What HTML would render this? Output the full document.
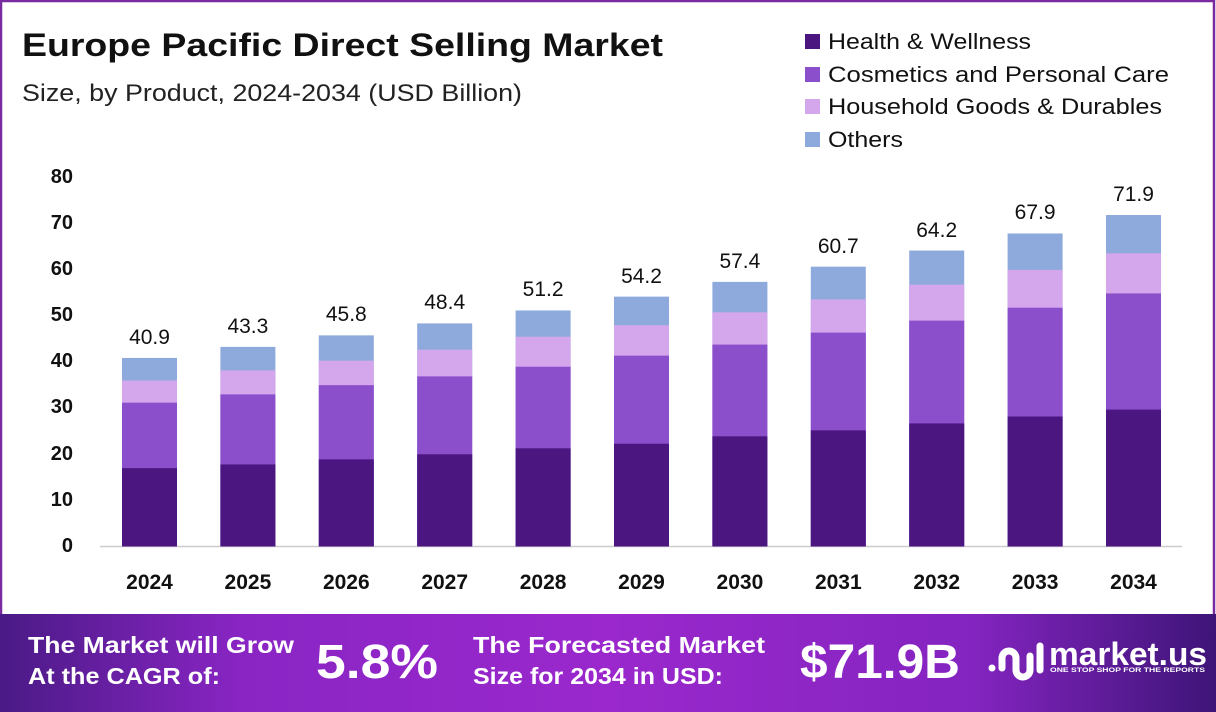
<!DOCTYPE html>
<html><head><meta charset="utf-8"><style>
html,body{margin:0;padding:0;background:#fff;}
svg{display:block;}
</style></head><body>
<svg width="1216" height="712" viewBox="0 0 1216 712" xmlns="http://www.w3.org/2000/svg" font-family="Liberation Sans, sans-serif">
<defs>
<linearGradient id="bg" x1="0" y1="0" x2="1" y2="0">
<stop offset="0" stop-color="#4a1a86"/>
<stop offset="0.2" stop-color="#8a25c4"/>
<stop offset="0.5" stop-color="#9a28cc"/>
<stop offset="0.8" stop-color="#8424c0"/>
<stop offset="1" stop-color="#3e1478"/>
</linearGradient>
</defs>
<rect x="1" y="1" width="1213" height="640" fill="#fff" stroke="#7a2aa0" stroke-width="2.5"/>
<text x="22" y="56" font-size="32" font-weight="bold" fill="#111" textLength="641" lengthAdjust="spacingAndGlyphs">Europe Pacific Direct Selling Market</text>
<text x="22" y="101" font-size="24" fill="#222" textLength="500" lengthAdjust="spacingAndGlyphs">Size, by Product, 2024-2034 (USD Billion)</text>
<g font-size="22" fill="#111">
<rect x="805" y="34" width="15" height="15" fill="#4b1680"/><text x="828" y="49" textLength="203" lengthAdjust="spacingAndGlyphs">Health &amp; Wellness</text>
<rect x="805" y="67" width="15" height="15" fill="#8b4fcc"/><text x="828" y="82" textLength="341" lengthAdjust="spacingAndGlyphs">Cosmetics and Personal Care</text>
<rect x="805" y="99" width="15" height="15" fill="#d4a6ec"/><text x="828" y="114" textLength="334" lengthAdjust="spacingAndGlyphs">Household Goods &amp; Durables</text>
<rect x="805" y="132" width="15" height="15" fill="#8eaadc"/><text x="828" y="147" textLength="75" lengthAdjust="spacingAndGlyphs">Others</text>
</g>
<g font-size="20" font-weight="bold" fill="#111" text-anchor="end">
<text x="73" y="183">80</text><text x="73" y="229">70</text><text x="73" y="275">60</text><text x="73" y="321">50</text><text x="73" y="367">40</text><text x="73" y="413">30</text><text x="73" y="460">20</text><text x="73" y="506">10</text><text x="73" y="552">0</text>
</g>
<line x1="100" y1="546.5" x2="1182" y2="546.5" stroke="#ccc" stroke-width="1.5"/>
<g fill="#8eaadc">
<rect x="122" y="357.95" width="55" height="188.55"/>
<rect x="220.4" y="346.89" width="55" height="199.61"/>
<rect x="318.8" y="335.36" width="55" height="211.14"/>
<rect x="417.2" y="323.38" width="55" height="223.12"/>
<rect x="515.6" y="310.47" width="55" height="236.03"/>
<rect x="614" y="296.64" width="55" height="249.86"/>
<rect x="712.4" y="281.89" width="55" height="264.61"/>
<rect x="810.8" y="266.67" width="55" height="279.83"/>
<rect x="909.2" y="250.54" width="55" height="295.96"/>
<rect x="1007.6" y="233.48" width="55" height="313.02"/>
<rect x="1106" y="215.04" width="55" height="331.46"/>
</g>
<g fill="#d4a6ec">
<rect x="122" y="380.54" width="55" height="165.96"/>
<rect x="220.4" y="370.40" width="55" height="176.1"/>
<rect x="318.8" y="360.72" width="55" height="185.78"/>
<rect x="417.2" y="349.65" width="55" height="196.85"/>
<rect x="515.6" y="336.75" width="55" height="209.75"/>
<rect x="614" y="325.22" width="55" height="221.28"/>
<rect x="712.4" y="312.31" width="55" height="234.19"/>
<rect x="810.8" y="299.40" width="55" height="247.1"/>
<rect x="909.2" y="284.65" width="55" height="261.85"/>
<rect x="1007.6" y="269.9" width="55" height="276.6"/>
<rect x="1106" y="253.30" width="55" height="293.2"/>
</g>
<g fill="#8b4fcc">
<rect x="122" y="402.67" width="55" height="143.83"/>
<rect x="220.4" y="394.37" width="55" height="152.13"/>
<rect x="318.8" y="385.15" width="55" height="161.35"/>
<rect x="417.2" y="376.39" width="55" height="170.11"/>
<rect x="515.6" y="366.71" width="55" height="179.79"/>
<rect x="614" y="355.65" width="55" height="190.85"/>
<rect x="712.4" y="344.58" width="55" height="201.92"/>
<rect x="810.8" y="332.60" width="55" height="213.9"/>
<rect x="909.2" y="320.61" width="55" height="225.89"/>
<rect x="1007.6" y="307.70" width="55" height="238.8"/>
<rect x="1106" y="293.41" width="55" height="253.09"/>
</g>
<g fill="#4b1680">
<rect x="122" y="468.13" width="55" height="78.37"/>
<rect x="220.4" y="464.44" width="55" height="82.06"/>
<rect x="318.8" y="459.37" width="55" height="87.13"/>
<rect x="417.2" y="454.3" width="55" height="92.2"/>
<rect x="515.6" y="448.31" width="55" height="98.19"/>
<rect x="614" y="443.70" width="55" height="102.8"/>
<rect x="712.4" y="436.32" width="55" height="110.18"/>
<rect x="810.8" y="430.33" width="55" height="116.17"/>
<rect x="909.2" y="423.41" width="55" height="123.09"/>
<rect x="1007.6" y="416.50" width="55" height="130"/>
<rect x="1106" y="409.58" width="55" height="136.92"/>
</g>
<g font-size="21" fill="#111" text-anchor="middle">
<text x="149.5" y="344">40.9</text>
<text x="247.9" y="333">43.3</text>
<text x="346.3" y="321">45.8</text>
<text x="444.7" y="309">48.4</text>
<text x="543.1" y="296">51.2</text>
<text x="641.5" y="283">54.2</text>
<text x="739.9" y="268">57.4</text>
<text x="838.3" y="253">60.7</text>
<text x="936.7" y="237">64.2</text>
<text x="1035.1" y="219">67.9</text>
<text x="1133.5" y="201">71.9</text>
</g>
<g font-size="21" font-weight="bold" fill="#111" text-anchor="middle">
<text x="149.5" y="589">2024</text>
<text x="247.9" y="589">2025</text>
<text x="346.3" y="589">2026</text>
<text x="444.7" y="589">2027</text>
<text x="543.1" y="589">2028</text>
<text x="641.5" y="589">2029</text>
<text x="739.9" y="589">2030</text>
<text x="838.3" y="589">2031</text>
<text x="936.7" y="589">2032</text>
<text x="1035.1" y="589">2033</text>
<text x="1133.5" y="589">2034</text>
</g>
<rect x="0" y="614" width="1216" height="98" fill="url(#bg)"/>
<g fill="#fff" font-weight="bold">
<text x="28" y="653" font-size="23" textLength="266" lengthAdjust="spacingAndGlyphs">The Market will Grow</text>
<text x="28" y="684" font-size="23" textLength="192" lengthAdjust="spacingAndGlyphs">At the CAGR of:</text>
<text x="316" y="678" font-size="48" textLength="122" lengthAdjust="spacingAndGlyphs">5.8%</text>
<text x="473" y="653" font-size="23" textLength="292" lengthAdjust="spacingAndGlyphs">The Forecasted Market</text>
<text x="473" y="684" font-size="23" textLength="250" lengthAdjust="spacingAndGlyphs">Size for 2034 in USD:</text>
<text x="800" y="678" font-size="48" textLength="160" lengthAdjust="spacingAndGlyphs">$71.9B</text>
<text x="1049" y="665" font-size="32" textLength="158" lengthAdjust="spacingAndGlyphs">market.us</text>
<text x="1050" y="672" font-size="6" textLength="155" lengthAdjust="spacingAndGlyphs">ONE STOP SHOP FOR THE REPORTS</text>
</g>
<g fill="none" stroke="#fff" stroke-width="7" stroke-linecap="round">
<path d="M992 668 a4 4 0 0 1 0 0"/>
<path d="M1002 668 v-10 a7 7 0 0 1 14 0 v12 a7 7 0 0 0 14 0 v-14"/>
<path d="M1040 646 v24"/>
</g>
</svg>
</body></html>
